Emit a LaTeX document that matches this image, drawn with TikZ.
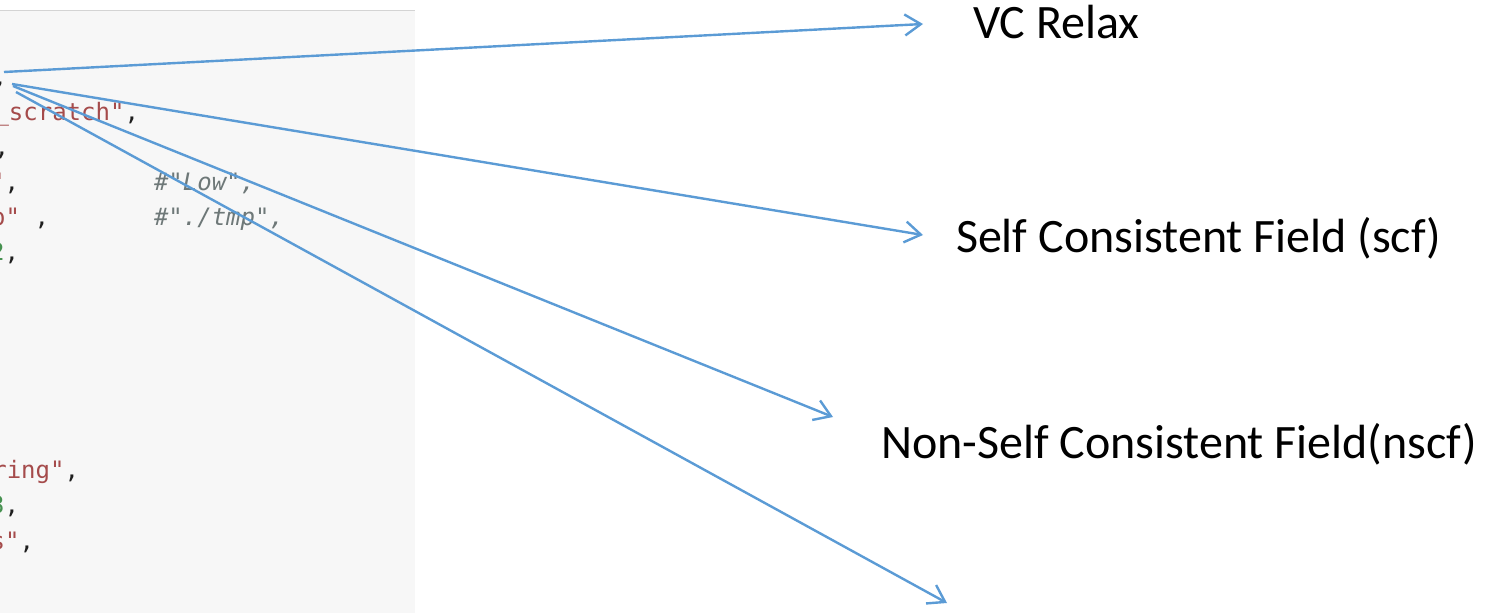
\documentclass[tikz,border=0pt]{standalone}
\usepackage{fontspec}
\setmainfont{Carlito}
\newfontfamily\codefont{DejaVu Sans Mono}
\usetikzlibrary{arrows.meta}
\definecolor{arrowblue}{RGB}{91,155,213}
\definecolor{panelgrey}{RGB}{247,247,247}
\definecolor{panelrule}{RGB}{212,212,212}
\definecolor{strred}{RGB}{165,75,75}
\definecolor{numgreen}{RGB}{70,145,80}
\definecolor{cmtgrey}{RGB}{110,120,120}
\definecolor{punct}{RGB}{30,30,30}

\begin{document}
\begin{tikzpicture}[x=1pt,y=-1pt,line width=2pt,
  flow/.style={draw=arrowblue,line width=2.4pt,-{Straight Barb[length=16pt,width=21pt]}},
  lbl/.style={anchor=base west,inner sep=0pt,font=\fontsize{48}{58}\selectfont},
  codeln/.style={anchor=base east,inner sep=0pt,text=punct,font=\codefont\fontsize{24}{30}\selectfont},
  cmt/.style={anchor=base west,inner sep=0pt,text=cmtgrey,font=\codefont\itshape\fontsize{24}{30}\selectfont}]
\path[use as bounding box] (0,0) rectangle (1486,613);
% code panel
\fill[panelgrey] (0,11) rectangle (415,613);
\draw[panelrule,line width=1.5pt] (0,10.5) -- (415,10.5);
\begin{scope}
\clip (0,11) rectangle (415,613);
\node[codeln] (c0) at (8,85) {,};
\node[codeln] (c1) at (140,120) {\textcolor{strred}{\_scratch"},};
\node[codeln] (c2) at (10,155) {,};
\node[codeln] (c3) at (20,190) {\textcolor{strred}{"},};
\node[cmt] (c3b) at (153,190) {\#"Low",};
\node[codeln] (c4) at (50,225) {\textcolor{strred}{o"} ,};
\node[cmt] (c4b) at (153,225) {\#"./tmp",};
\node[codeln] (c5) at (20,260) {\textcolor{numgreen}{2},};
\node[codeln] (c6) at (6,295) {,};
\node[codeln] (c10) at (6,442) {,};
\node[codeln] (c11) at (80,478) {\textcolor{strred}{ring"},};
\node[codeln] (c12) at (20,513) {\textcolor{numgreen}{3},};
\node[codeln] (c13) at (35,549) {\textcolor{strred}{s"},};
\end{scope}
% stage labels
\node[lbl] (vc) at (972,38) {VC Relax};
\node[lbl] (scf) at (955,252) {Self Consistent Field (scf)};
\node[lbl] (nscf) at (880,458) {Non-Self Consistent Field(nscf)};
% arrow ends
\coordinate (src1) at (4,72);
\coordinate (src2) at (12,84);
\coordinate (src3) at (13,86);
\coordinate (src4) at (16,92);
\coordinate (tip1) at (923,24);
\coordinate (tip2) at (923,235);
\coordinate (tip3) at (833,417);
\coordinate (tip4) at (947,603);
\draw[flow] (src1) -- (tip1);
\draw[flow] (src2) -- (tip2);
\draw[flow] (src3) -- (tip3);
\draw[flow] (src4) -- (tip4);
\end{tikzpicture}
\end{document}
